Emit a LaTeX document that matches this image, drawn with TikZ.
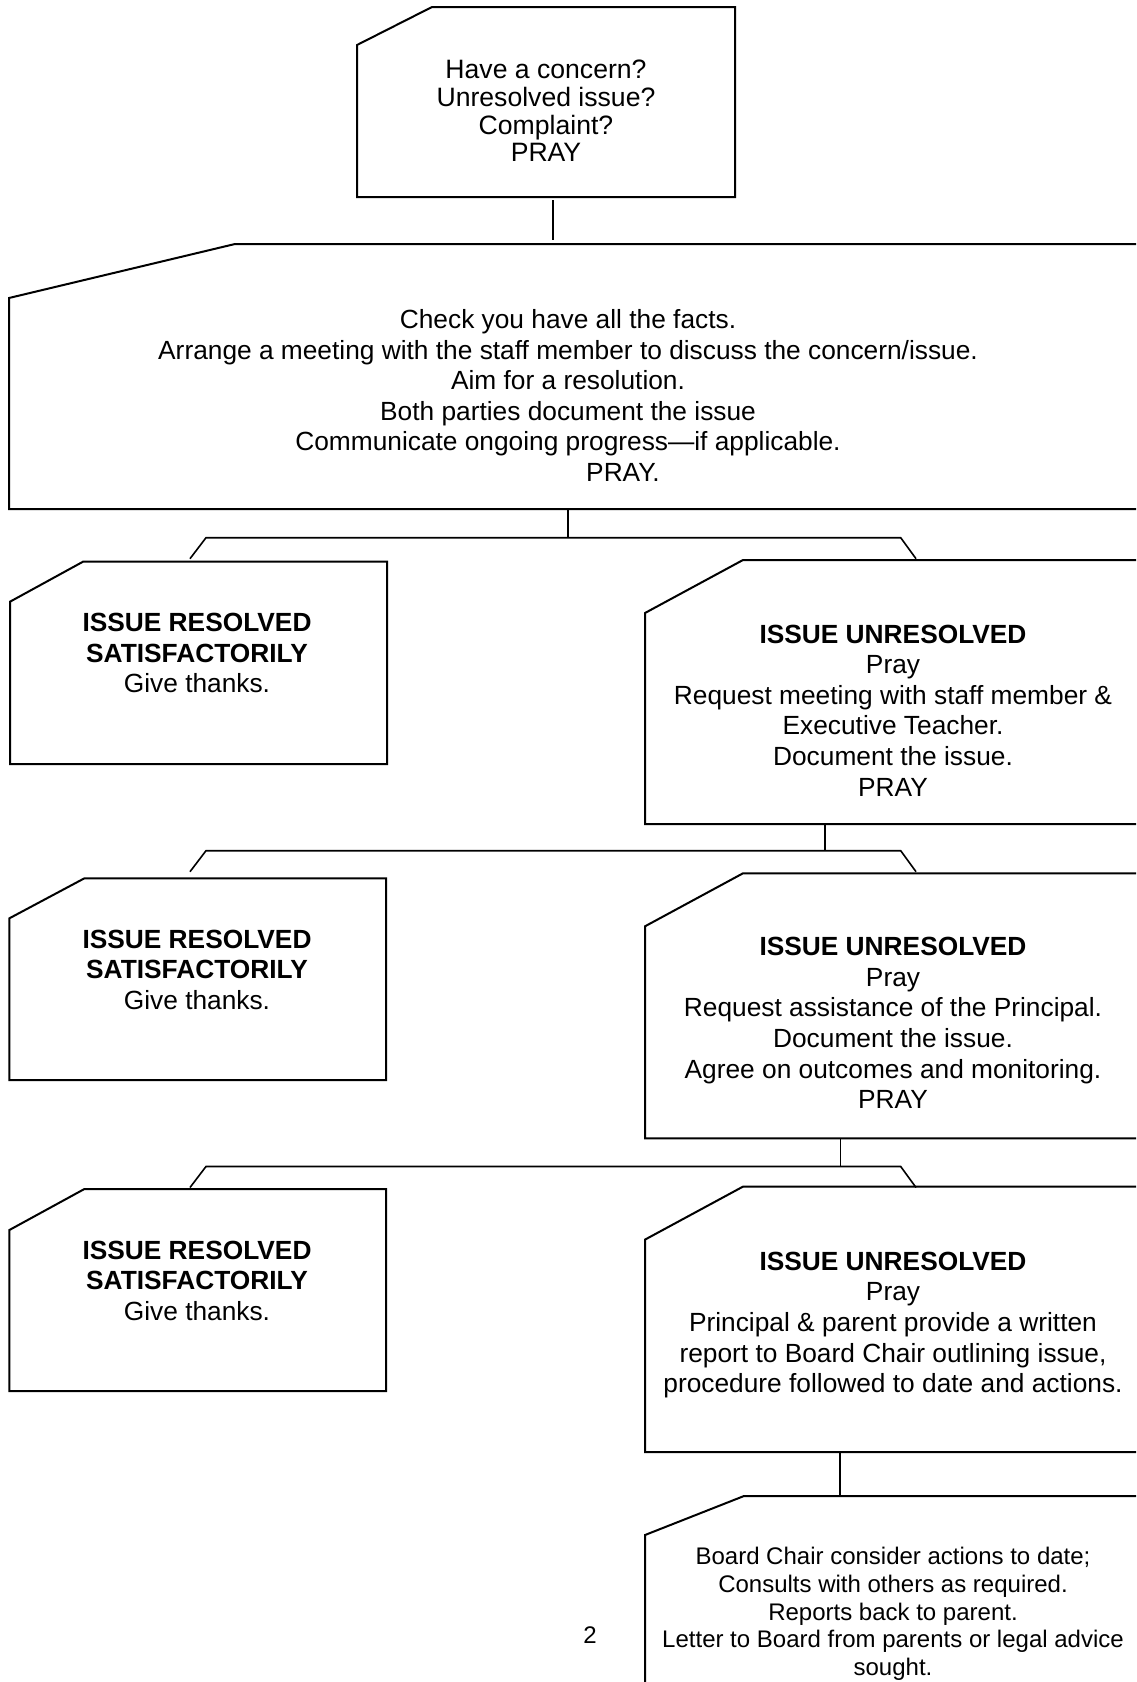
\documentclass[tikz,border=0pt]{standalone}
\usepackage{fontspec}
\setmainfont{Liberation Sans}
\usetikzlibrary{fit}

\begin{document}
\begin{tikzpicture}[x=0.5pt,y=-0.5pt,
  frame/.style={inner sep=0pt,outer sep=0pt},
  boxline/.style={line width=1pt},
  link/.style={line width=0.65pt},
  bus/.style={line width=0.8pt},
  txt/.style={align=center,inner sep=0pt,anchor=north,font=\fontsize{13.15}{15.3}\selectfont},
  small/.style={txt,font=\fontsize{12}{13.9}\selectfont}]
\useasboundingbox (0,0) rectangle (1136,1682);
\clip (0,0) rectangle (1136,1682);
% boxes
\node[frame,fit={(357,7) (735,197)}] (top) {};
\node[frame,fit={(9,244) (1141,509)}] (chk) {};
\node[frame,fit={(10,561.7) (387,764)}] (res1) {};
\node[frame,fit={(645,560) (1141,824)}] (un1) {};
\node[frame,fit={(9.4,878.3) (386,1080)}] (res2) {};
\node[frame,fit={(645,873.3) (1141,1138.3)}] (un2) {};
\node[frame,fit={(9.4,1189) (386,1391)}] (res3) {};
\node[frame,fit={(645,1186.6) (1141,1452)}] (un3) {};
\node[frame,fit={(645,1496) (1141,1740)}] (board) {};
\foreach \n/\dx/\dy in {top/37.5pt/19pt, chk/113pt/27pt, res1/36.5pt/20pt,
    un1/49pt/26.5pt, res2/37.5pt/20pt, un2/49pt/26.5pt, res3/37.5pt/20.5pt,
    un3/49pt/26.5pt, board/49.5pt/19.5pt}
  \draw[boxline] ([yshift=-\dy]\n.north west) -- ([xshift=\dx]\n.north west)
    -- (\n.north east) -- (\n.south east) -- (\n.south west) -- cycle;

% texts
\node[txt,font=\fontsize{13.3}{13.8}\selectfont] (toptxt) at (546,60)
  {Have a concern?\\Unresolved issue?\\Complaint?\\PRAY};
\node[txt] (chktxt) at (568,309)
  {Check you have all the facts.\\
   Arrange a meeting with the staff member to discuss the concern/issue.\\
   Aim for a resolution.\\Both parties document the issue\\
   Communicate ongoing progress—if applicable.\\\hspace*{55pt}PRAY.};
\node[txt] (res1txt) at (197,612.7)
  {\textbf{ISSUE RESOLVED}\\\textbf{SATISFACTORILY}\\Give thanks.};
\node[txt] (un1txt) at (893,624.3)
  {\textbf{ISSUE UNRESOLVED}\\Pray\\Request meeting with staff member \&\\
   Executive Teacher.\\Document the issue.\\PRAY};
\node[txt] (res2txt) at (197,929.3)
  {\textbf{ISSUE RESOLVED}\\\textbf{SATISFACTORILY}\\Give thanks.};
\node[txt] (un2txt) at (893,937)
  {\textbf{ISSUE UNRESOLVED}\\Pray\\Request assistance of the Principal.\\
   Document the issue.\\Agree on outcomes and monitoring.\\PRAY};
\node[txt] (res3txt) at (197,1240.3)
  {\textbf{ISSUE RESOLVED}\\\textbf{SATISFACTORILY}\\Give thanks.};
\node[txt] (un3txt) at (893,1251.5)
  {\textbf{ISSUE UNRESOLVED}\\Pray\\Principal \& parent provide a written\\
   report to Board Chair outlining issue,\\procedure followed to date and actions.};
\node[small] (boardtxt) at (893,1546.7)
  {Board Chair consider actions to date;\\Consults with others as required.\\
   Reports back to parent.\\Letter to Board from parents or legal advice\\sought.};
\node[small] (pageno) at (590,1626.8) {2};

% connectors
\draw[link,shorten <=1.5pt,shorten >=2pt] ([xshift=3.5pt]top.south)
  -- ([xshift=3.5pt]top.south |- chk.north);
\foreach \src/\x/\y [count=\i] in {chk/568/537.7, un1/825/850.7, un2/840.5/1166.5} {
  \coordinate (j\i) at (\x,\y);
  \coordinate (l\i) at (190,\y+21);
  \coordinate (r\i) at (916,\y+21);
  \draw[link] (\src.south -| j\i) -- (j\i);
  \draw[bus] (l\i) -- (206,\y) -- (900.7,\y) -- (r\i);
}
\draw[link] ([xshift=-26.5pt]un3.south) -- ([xshift=-26.5pt]un3.south |- board.north);
\end{tikzpicture}
\end{document}
